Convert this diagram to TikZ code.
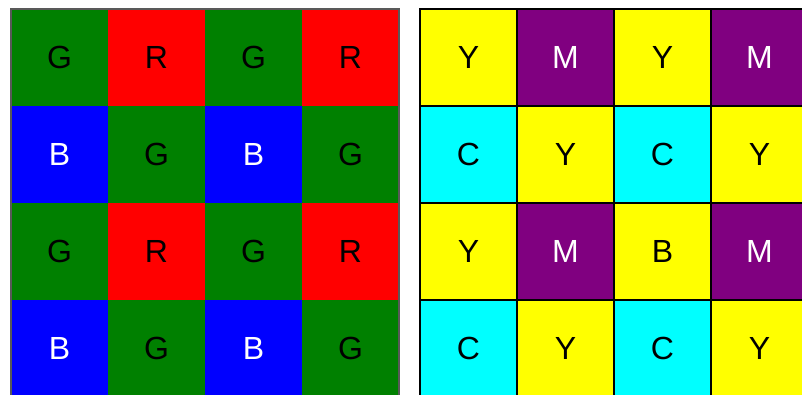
\documentclass[tikz,border=0pt]{standalone}
\usepackage{fontspec}
\setmainfont{Liberation Sans}
\definecolor{cgreen}{HTML}{008000}
\definecolor{cred}{HTML}{FF0000}
\definecolor{cblue}{HTML}{0000FF}
\definecolor{cyel}{HTML}{FFFF00}
\definecolor{ccyan}{HTML}{00FFFF}
\definecolor{cpurp}{HTML}{800080}
\begin{document}
\begin{tikzpicture}[x=1pt,y=-1pt,
  cell/.style={minimum width=97pt,minimum height=97pt,inner sep=0pt,outer sep=0pt,font=\fontsize{32}{32}\selectfont},
  lcell/.style={cell},
  rcell/.style={cell,draw=black,line width=2pt},
  G/.style={fill=cgreen,text=black},
  R/.style={fill=cred,text=black},
  B/.style={fill=cblue,text=white},
  Y/.style={fill=cyel,text=black},
  M/.style={fill=cpurp,text=white},
  C/.style={fill=ccyan,text=black},
  Bk/.style={fill=cyel,text=black}]
\useasboundingbox (0,0) rectangle (802,394);
\clip (0,0) rectangle (802,394);
\fill[white] (0,0) rectangle (802,394);
% left grid
\foreach \r/\row in {0/{G,R,G,R},1/{B,G,B,G},2/{G,R,G,R},3/{B,G,B,G}}{
  \foreach \s [count=\c from 0] in \row {
    \node[lcell,\s] (L\r\c) at ({11+97*\c+48.5},{9+97*\r+48.5}) {\s};
  }
}
\draw[draw=gray!70!black,line width=2pt] (L00.north west) rectangle (L33.south east);
% right grid
\foreach \r/\row in {0/{Y/Y,M/M,Y/Y,M/M},1/{C/C,Y/Y,C/C,Y/Y},2/{Y/Y,M/M,Bk/B,M/M},3/{C/C,Y/Y,C/C,Y/Y}}{
  \foreach \s/\t [count=\c from 0] in \row {
    \node[rcell,\s] (R\r\c) at ({420+97*\c+48.5},{9+97*\r+48.5}) {\t};
  }
}
\end{tikzpicture}
\end{document}
